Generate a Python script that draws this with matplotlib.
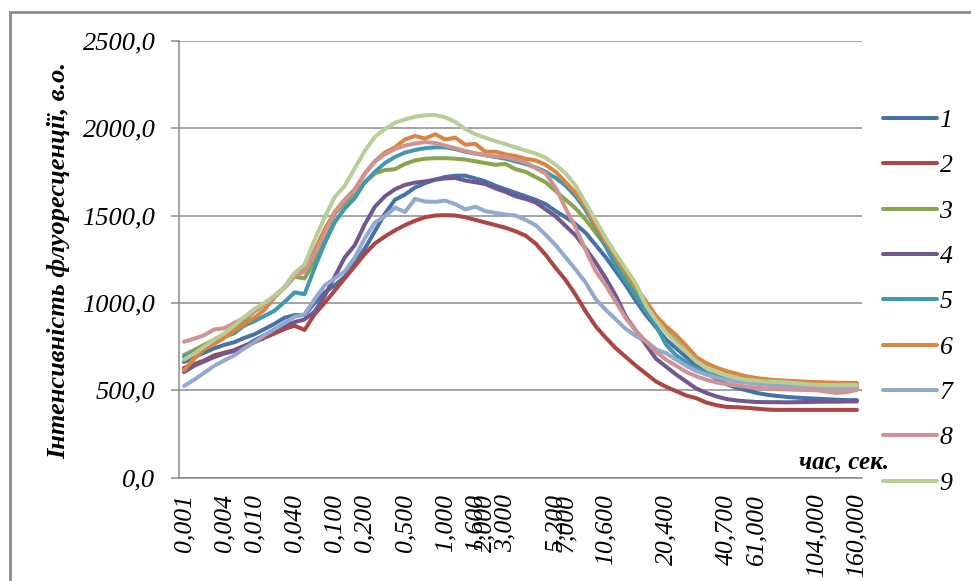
import matplotlib
matplotlib.use('Agg')
import matplotlib.pyplot as plt
from matplotlib.patches import Rectangle

plt.rcParams['font.family'] = ['Liberation Serif', 'DejaVu Serif']

# Labelled measurement times and their positions along the category axis
time_labels = ['0,001', '0,004', '0,010', '0,040', '0,100', '0,200', '0,500', '1,000',
               '1,600', '2,000', '3,000', '5,200', '7,000', '10,600', '20,400',
               '40,700', '61,000', '104,000', '160,000']
label_index = [0, 4, 7, 11, 15, 18, 22, 26, 29, 30, 32, 37, 38, 42, 48, 54, 57, 63, 67]

series_names = ['1', '2', '3', '4', '5', '6', '7', '8', '9']
series_colors = ['#4572a7', '#aa4643', '#89a54e', '#71588f', '#4198af',
                 '#db843d', '#93a9cf', '#d19392', '#b9cd96']

s1 = [662, 690, 715, 740, 760, 775, 800, 820, 850, 880,
      915, 930, 930, 1000, 1060, 1100, 1150, 1230, 1310, 1410,
      1510, 1590, 1620, 1660, 1685, 1705, 1720, 1728, 1728, 1712,
      1695, 1670, 1650, 1630, 1610, 1590, 1565, 1525, 1490, 1450,
      1400, 1330, 1260, 1180, 1100, 1010, 930, 860, 790, 740,
      690, 640, 600, 565, 535, 515, 500, 485, 475, 468,
      462, 458, 455, 452, 449, 446, 444, 444]
s2 = [628, 650, 670, 700, 715, 730, 755, 775, 800, 825,
      850, 870, 845, 935, 1000, 1070, 1140, 1210, 1280, 1340,
      1380, 1415, 1445, 1470, 1490, 1500, 1502, 1500, 1490, 1475,
      1460, 1445, 1430, 1410, 1385, 1340, 1275, 1200, 1130, 1045,
      950, 865, 800, 740, 690, 640, 595, 550, 520, 495,
      470, 455, 430, 415, 405, 403, 400, 395, 390, 388,
      388, 388, 388, 388, 388, 388, 388, 388]
s3 = [702, 730, 760, 790, 820, 860, 900, 950, 990, 1040,
      1090, 1150, 1140, 1240, 1360, 1510, 1570, 1620, 1690, 1740,
      1760, 1765, 1795, 1815, 1825, 1828, 1828, 1825, 1820, 1810,
      1800, 1790, 1795, 1765, 1750, 1720, 1690, 1640, 1590, 1540,
      1475, 1400, 1325, 1235, 1150, 1065, 990, 910, 840, 780,
      720, 670, 630, 600, 585, 570, 560, 553, 548, 545,
      542, 540, 538, 537, 536, 535, 535, 535]
s4 = [604, 640, 665, 690, 710, 725, 750, 785, 815, 845,
      870, 890, 905, 950, 1040, 1150, 1260, 1330, 1450, 1550,
      1610, 1650, 1675, 1688, 1695, 1705, 1712, 1715, 1700, 1690,
      1680, 1655, 1635, 1610, 1595, 1575, 1535, 1495, 1440, 1385,
      1310, 1230, 1140, 1040, 920, 840, 760, 680, 635, 590,
      550, 510, 485, 465, 450, 442, 437, 433, 432, 432,
      431, 432, 433, 434, 435, 435, 436, 436]
s5 = [690, 715, 745, 780, 805, 827, 870, 895, 925, 955,
      1005, 1060, 1050, 1200, 1340, 1460, 1540, 1600, 1690, 1750,
      1800, 1835, 1860, 1875, 1885, 1890, 1890, 1880, 1865, 1855,
      1845, 1835, 1825, 1810, 1795, 1775, 1750, 1715, 1670, 1610,
      1530, 1430, 1320, 1210, 1120, 1040, 950, 870, 760, 700,
      660, 625, 600, 578, 565, 555, 548, 542, 538, 534,
      530, 527, 524, 522, 520, 518, 517, 517]
s6 = [615, 680, 735, 765, 800, 840, 880, 915, 960, 1030,
      1090, 1170, 1190, 1300, 1420, 1520, 1590, 1650, 1740, 1810,
      1860, 1890, 1935, 1955, 1940, 1965, 1935, 1945, 1905, 1910,
      1865, 1865, 1850, 1840, 1825, 1815, 1790, 1750, 1690, 1630,
      1550, 1440, 1350, 1265, 1180, 1090, 1010, 925, 865, 815,
      755, 690, 655, 630, 610, 595, 580, 570, 563, 558,
      555, 552, 549, 547, 545, 543, 542, 542]
s7 = [525, 560, 600, 640, 670, 700, 740, 775, 815, 850,
      885, 920, 935, 1020, 1100, 1140, 1180, 1260, 1370, 1460,
      1495, 1545, 1520, 1595, 1580, 1578, 1585, 1565, 1535, 1550,
      1525, 1515, 1505, 1500, 1475, 1445, 1390, 1330, 1260, 1190,
      1115, 1020, 960, 905, 850, 810, 780, 735, 712, 675,
      640, 610, 590, 572, 560, 550, 545, 538, 532, 528,
      525, 522, 520, 518, 516, 515, 514, 513]
s8 = [778, 795, 815, 848, 855, 885, 915, 955, 990, 1035,
      1085, 1150, 1180, 1280, 1400, 1520, 1590, 1640, 1740, 1810,
      1850, 1880, 1900, 1912, 1920, 1915, 1900, 1885, 1870, 1855,
      1845, 1838, 1834, 1820, 1805, 1770, 1740, 1660, 1540, 1430,
      1300, 1180, 1100, 1005, 910, 840, 780, 720, 675, 640,
      605, 580, 560, 545, 535, 528, 521, 515, 510, 507,
      505, 503, 502, 500, 492, 485, 490, 502]
s9 = [675, 710, 750, 790, 825, 870, 920, 965, 1000, 1040,
      1090, 1170, 1220, 1360, 1490, 1605, 1670, 1770, 1870, 1950,
      1995, 2030, 2050, 2065, 2073, 2075, 2062, 2035, 1995, 1965,
      1945, 1925, 1908, 1890, 1872, 1855, 1830, 1790, 1740, 1670,
      1570, 1470, 1370, 1280, 1195, 1110, 985, 900, 830, 770,
      720, 665, 630, 605, 585, 570, 560, 555, 550, 548,
      545, 540, 535, 532, 530, 530, 530, 530]
all_series = [s1, s2, s3, s4, s5, s6, s7, s8, s9]

y_ticks = [0, 500, 1000, 1500, 2000, 2500]

grid_color = '#8a8a8a'

fig = plt.figure(figsize=(9.71, 5.81), dpi=100)
W, H = 971, 581
ax = fig.add_axes([179 / W, 1 - 477.7 / H, (862 - 179) / W, (477.7 - 40.7) / H])

# outer chart frame
fig.patches.append(Rectangle((10 / W, -0.1), 2, 1 - 12 / H + 0.1, transform=fig.transFigure,
                             fill=False, edgecolor='#8c8c8c', linewidth=2))

x = list(range(len(s1)))
for vals, name, col in zip(all_series, series_names, series_colors):
    ax.plot(x, vals, color=col, linewidth=2.9, label=name,
            solid_joinstyle='round', solid_capstyle='round')

ax.set_xlim(-0.5, len(s1) - 0.5)
ax.set_ylim(0, 2500)
ax.set_yticks(y_ticks)
ax.set_yticklabels([f'{v:.1f}'.replace('.', ',') for v in y_ticks],
                   fontsize=19, fontstyle='italic')
ax.set_xticks(label_index)
ax.set_xticklabels(time_labels, rotation=90, fontsize=18.5, fontstyle='italic')

ax.grid(axis='y', color=grid_color, linewidth=1.1)
ax.set_axisbelow(True)
for side in ['top', 'right']:
    ax.spines[side].set_visible(False)
for side in ['left', 'bottom']:
    ax.spines[side].set_color(grid_color)
    ax.spines[side].set_linewidth(1.1)
ax.tick_params(axis='y', length=6, width=1.1, color=grid_color, pad=11)
ax.tick_params(axis='x', length=0, pad=11.5)

fig.text(59 / W, 1 - 260 / H, 'Інтенсивність флуоресценції, в.о.', rotation=90,
         ha='center', va='center', fontsize=19, fontweight='bold', fontstyle='italic')
fig.text(844 / W, 1 - 462 / H, 'час, сек.', ha='center', va='center',
         fontsize=18, fontweight='bold', fontstyle='italic')

fig.legend(loc='upper left', bbox_to_anchor=(883 / W, 1 - 109 / H), frameon=False,
           prop={'style': 'italic', 'size': 18.5},
           handlelength=2.1, handletextpad=0.1, labelspacing=0.87, borderpad=0,
           borderaxespad=0)

fig.savefig('out.png', dpi=100)
